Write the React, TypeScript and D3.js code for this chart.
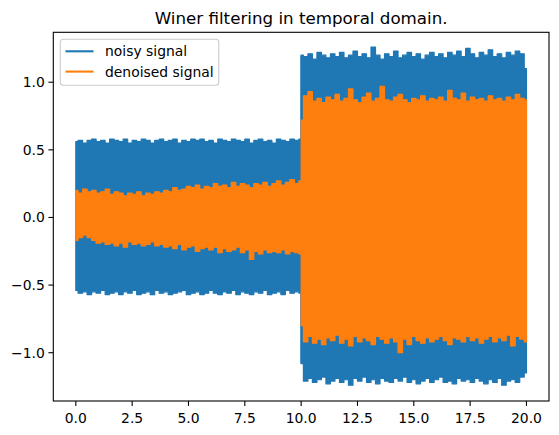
import React from "react";
import * as d3 from "d3";

const segment1Times = d3.range(0, 10.0001, 0.2);
const segment2Times = d3.range(10, 20.0001, 0.2);

const noisyUpper1 = [
  0.56, 0.57, 0.55, 0.57, 0.58, 0.56, 0.57, 0.55, 0.58, 0.57,
  0.56, 0.58, 0.55, 0.57, 0.56, 0.58, 0.57, 0.55, 0.57, 0.58,
  0.56, 0.57, 0.58, 0.55, 0.57, 0.56, 0.58, 0.57, 0.58, 0.56,
  0.57, 0.55, 0.58, 0.57, 0.56, 0.58, 0.57, 0.56, 0.58, 0.55,
  0.57, 0.58, 0.56, 0.57, 0.55, 0.58, 0.57, 0.56, 0.58, 0.57, 0.58,
];
const noisyLower1 = [
  -0.54, -0.56, -0.55, -0.57, -0.55, -0.56, -0.54, -0.57, -0.56, -0.55,
  -0.57, -0.55, -0.56, -0.54, -0.57, -0.56, -0.55, -0.57, -0.54, -0.56,
  -0.55, -0.57, -0.56, -0.55, -0.54, -0.57, -0.56, -0.55, -0.57, -0.56,
  -0.54, -0.56, -0.57, -0.55, -0.56, -0.54, -0.57, -0.55, -0.56, -0.57,
  -0.55, -0.56, -0.54, -0.57, -0.56, -0.55, -0.57, -0.54, -0.56, -0.55, -0.56,
];
const denoisedUpper1 = [
  0.2, 0.18, 0.21, 0.19, 0.2, 0.18, 0.19, 0.21, 0.17, 0.19,
  0.18, 0.16, 0.18, 0.17, 0.19, 0.16, 0.18, 0.17, 0.19, 0.18,
  0.2, 0.19, 0.22, 0.2, 0.21, 0.23, 0.22, 0.24, 0.21, 0.23,
  0.22, 0.25, 0.23, 0.24, 0.22, 0.26, 0.23, 0.25, 0.24, 0.22,
  0.25, 0.24, 0.26, 0.23, 0.25, 0.27, 0.24, 0.26, 0.28, 0.25, 0.27,
];
const denoisedLower1 = [
  -0.17, -0.15, -0.13, -0.15, -0.17, -0.19, -0.18, -0.2, -0.19, -0.21,
  -0.19, -0.22, -0.18, -0.2, -0.19, -0.21, -0.2, -0.18, -0.21, -0.2,
  -0.22, -0.21, -0.23, -0.2, -0.24, -0.22, -0.21, -0.25, -0.23, -0.22,
  -0.24, -0.22, -0.26, -0.23, -0.25, -0.24, -0.22, -0.26, -0.24, -0.31,
  -0.25, -0.27, -0.24, -0.26, -0.25, -0.26, -0.24, -0.27, -0.25, -0.26, -0.27,
];
const noisyUpper2 = [
  1.2, 1.19, 1.21, 1.17, 1.22, 1.2, 1.18, 1.21, 1.19, 1.22,
  1.18, 1.2, 1.23, 1.19, 1.21, 1.18, 1.26, 1.2, 1.17, 1.21,
  1.19, 1.23, 1.18, 1.2, 1.22, 1.19, 1.21, 1.17, 1.2, 1.22,
  1.19, 1.21, 1.18, 1.22, 1.2, 1.23, 1.19, 1.25, 1.21, 1.18,
  1.22, 1.2, 1.24, 1.19, 1.21, 1.18, 1.22, 1.2, 1.23, 1.21, 1.1,
];
const noisyLower2 = [
  -1.08, -1.21, -1.19, -1.22, -1.2, -1.18, -1.23, -1.21, -1.19, -1.22,
  -1.2, -1.24, -1.19, -1.21, -1.18, -1.22, -1.2, -1.23, -1.19, -1.21,
  -1.22, -1.19, -1.21, -1.18, -1.22, -1.2, -1.23, -1.21, -1.19, -1.22,
  -1.2, -1.18, -1.22, -1.21, -1.23, -1.19, -1.21, -1.2, -1.22, -1.19,
  -1.21, -1.23, -1.2, -1.22, -1.19, -1.24, -1.21, -1.2, -1.22, -1.18, -1.15,
];
const denoisedUpper2 = [
  0.72, 0.9, 0.93, 0.86, 0.88, 0.85, 0.89, 0.87, 0.91, 0.86,
  0.88, 0.95, 0.87, 0.85, 0.89, 0.92, 0.86, 0.88, 0.97, 0.87,
  0.86, 0.89, 0.91, 0.87, 0.85, 0.88, 0.87, 0.9, 0.86, 0.88,
  0.87, 0.89, 0.86, 0.94, 0.88, 0.87, 0.92, 0.86, 0.89, 0.87,
  0.88, 0.86, 0.9, 0.87, 0.88, 0.86, 0.89, 0.87, 0.91, 0.88, 0.87,
];
const denoisedLower2 = [
  -0.8, -0.92, -0.88, -0.93, -0.9, -0.94, -0.89, -0.91, -0.87, -0.93,
  -0.9, -0.95, -0.88, -0.92, -0.89, -0.91, -0.94, -0.88, -0.9, -0.93,
  -0.89, -0.92, -1.0, -0.9, -0.94, -0.88, -0.91, -0.93, -0.89, -0.92,
  -0.9, -0.88, -0.91, -0.94, -0.89, -0.9, -0.92, -0.88, -0.91, -0.89,
  -0.93, -0.9, -0.88, -0.92, -0.89, -0.91, -0.87, -0.95, -0.88, -0.9, -0.92,
];

const xTicks = [0, 2.5, 5, 7.5, 10, 12.5, 15, 17.5, 20];
const yTicks = [-1.0, -0.5, 0.0, 0.5, 1.0];
const seriesNames = ["noisy signal", "denoised signal"];
const seriesColors = ["#1f77b4", "#ff7f0e"];
const title = "Winer filtering in temporal domain.";

// ---- layout ----
const W = 559;
const H = 435;
const M = { left: 53.3, right: 549, top: 32.3, bottom: 401 };
const FONT = "DejaVu Sans, sans-serif";

const x = d3.scaleLinear().domain([-1, 21]).range([M.left, M.right]);
const y = d3.scaleLinear().domain([-1.357, 1.369]).range([M.bottom, M.top]);

type Pt = { t: number; hi: number; lo: number };
function band(times: number[], hi: number[], lo: number[]): Pt[] {
  return times.map((t, i) => ({ t, hi: hi[i], lo: lo[i] }));
}

const area = d3
  .area<Pt>()
  .curve(d3.curveStep)
  .x((d) => x(d.t))
  .y0((d) => y(d.lo))
  .y1((d) => y(d.hi));

const noisyBands = [
  band(segment1Times, noisyUpper1, noisyLower1),
  band(segment2Times, noisyUpper2, noisyLower2),
];
const denoisedBands = [
  band(segment1Times, denoisedUpper1, denoisedLower1),
  band(segment2Times, denoisedUpper2, denoisedLower2),
];

export default function App() {
  const fmt = d3.format(".1f");
  const fmtY = (v: number) => fmt(v).replace("-", "\u2212");
  return (
    <svg
      width={W}
      height={H}
      style={{ position: "absolute", left: 0, top: 0, background: "#fff" }}
      fontFamily={FONT}
    >
      <rect x={0} y={0} width={W} height={H} fill="#fff" />
      <defs>
        <clipPath id="plotclip">
          <rect x={M.left} y={M.top} width={M.right - M.left} height={M.bottom - M.top} />
        </clipPath>
      </defs>
      <g clipPath="url(#plotclip)">
        {noisyBands.map((b, i) => (
          <path
            key={"n" + i}
            d={area(b) || ""}
            fill={seriesColors[0]}
            stroke={seriesColors[0]}
            strokeWidth={1.2}
            strokeLinejoin="round"
          />
        ))}
        <line
          x1={x(10)}
          x2={x(10)}
          y1={y(noisyLower2[0])}
          y2={y(noisyUpper2[0])}
          stroke={seriesColors[0]}
          strokeWidth={1.5}
        />
        {denoisedBands.map((b, i) => (
          <path
            key={"d" + i}
            d={area(b) || ""}
            fill={seriesColors[1]}
            stroke={seriesColors[1]}
            strokeWidth={1.2}
            strokeLinejoin="round"
          />
        ))}
      </g>

      {/* spines */}
      <rect
        x={M.left}
        y={M.top}
        width={M.right - M.left}
        height={M.bottom - M.top}
        fill="none"
        stroke="#000"
        strokeWidth={1.1}
      />

      {/* x ticks */}
      {xTicks.map((t) => (
        <g key={"x" + t}>
          <line x1={x(t)} x2={x(t)} y1={M.bottom} y2={M.bottom + 4.9} stroke="#000" strokeWidth={1.1} />
          <text x={x(t)} y={M.bottom + 22} textAnchor="middle" fontSize={13.9} fill="#000">
            {fmt(t)}
          </text>
        </g>
      ))}

      {/* y ticks */}
      {yTicks.map((t) => (
        <g key={"y" + t}>
          <line x1={M.left - 4.9} x2={M.left} y1={y(t)} y2={y(t)} stroke="#000" strokeWidth={1.1} />
          <text x={M.left - 8.5} y={y(t) + 5} textAnchor="end" fontSize={13.9} fill="#000">
            {fmtY(t)}
          </text>
        </g>
      ))}

      {/* title */}
      <text x={(M.left + M.right) / 2} y={24.3} textAnchor="middle" fontSize={16.7} fill="#000">
        {title}
      </text>

      {/* legend */}
      <g>
        <rect x={60.3} y={39.3} width={158.5} height={46} rx={3} ry={3} fill="#fff" fillOpacity={0.8} stroke="#cccccc" strokeWidth={1.1} />
        {seriesNames.map((name, i) => (
          <g key={name}>
            <line
              x1={65.5}
              x2={93.5}
              y1={51.3 + i * 20.3}
              y2={51.3 + i * 20.3}
              stroke={seriesColors[i]}
              strokeWidth={2.1}
            />
            <text x={105} y={56.3 + i * 20.3} fontSize={13.9} fill="#000">
              {name}
            </text>
          </g>
        ))}
      </g>
    </svg>
  );
}
